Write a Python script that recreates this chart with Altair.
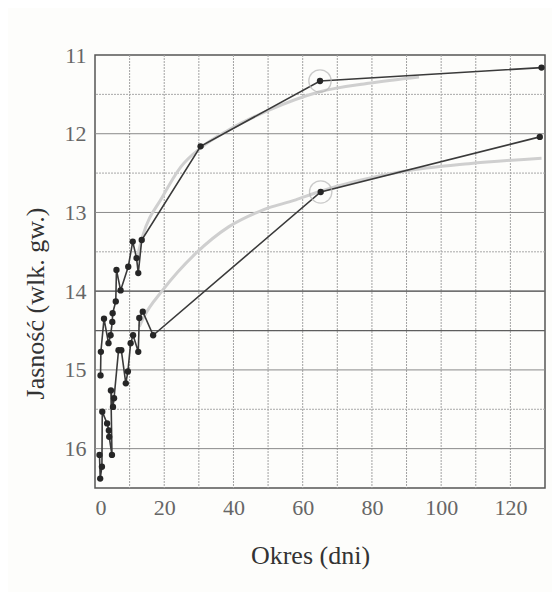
import altair as alt
import pandas as pd

# --- data ---
upper_days = [1.6, 1.7, 2.6, 3.9, 4.5, 5.0, 5.1, 6.0, 6.2, 7.4, 9.6, 10.9, 12.0, 12.5, 13.5, 30.5, 65.0, 129.0]
upper_mag = [15.07, 14.77, 14.35, 14.66, 14.56, 14.39, 14.28, 14.13, 13.73, 13.99, 13.69, 13.37, 13.58, 13.77, 13.35, 12.16, 11.33, 11.16]

lower_days = [1.3, 1.5, 2.0, 2.1, 3.5, 4.0, 4.1, 4.9, 4.6, 5.2, 5.5, 6.8, 7.6, 8.9, 9.5, 10.3, 11.0, 12.5, 12.8, 13.8, 16.8, 65.2, 128.5]
lower_mag = [16.08, 16.38, 16.23, 15.53, 15.68, 15.77, 15.85, 16.08, 15.26, 15.47, 15.36, 14.75, 14.75, 15.17, 15.02, 14.66, 14.56, 14.77, 14.34, 14.26, 14.56, 12.74, 12.04]

fit_upper_days = [12.0, 13.7, 19.5, 24.8, 30.5, 38.7, 50.3, 64.7, 79.0, 93.6]
fit_upper_mag = [13.6, 13.31, 12.8, 12.42, 12.18, 11.95, 11.7, 11.47, 11.36, 11.28]

fit_lower_days = [12.8, 14.2, 19.5, 29.1, 38.7, 48.4, 58.0, 63.8, 88.8, 108.0, 129.0]
fit_lower_mag = [14.45, 14.32, 13.99, 13.52, 13.18, 12.97, 12.84, 12.75, 12.48, 12.38, 12.31]

circle_days = [65.0, 65.2]
circle_mag = [11.33, 12.74]

x_ticks = list(range(0, 131, 10))
x_labels = list(range(0, 121, 20))
y_labels = [11, 12, 13, 14, 15, 16]
y_half = [11.5, 12.5, 13.5, 14.5, 15.5, 16.0 + 0.5]
y_dark = [14, 14.5]

FONT = "Liberation Serif"

obs = pd.concat([
    pd.DataFrame({"days": upper_days, "mag": upper_mag, "series": "max", "i": range(len(upper_days))}),
    pd.DataFrame({"days": lower_days, "mag": lower_mag, "series": "min", "i": range(len(lower_days))}),
])
fit = pd.concat([
    pd.DataFrame({"days": fit_upper_days, "mag": fit_upper_mag, "series": "max", "i": range(len(fit_upper_days))}),
    pd.DataFrame({"days": fit_lower_days, "mag": fit_lower_mag, "series": "min", "i": range(len(fit_lower_days))}),
])
circ = pd.DataFrame({"days": circle_days, "mag": circle_mag})

x_enc = alt.X(
    "days:Q",
    scale=alt.Scale(domain=[0, 130], nice=False, zero=False),
    axis=alt.Axis(
        values=x_labels,
        format="d",
        title="Okres (dni)",
        titleX=215,
        titlePadding=24,
        grid=False,
    ),
)
y_enc = alt.Y(
    "mag:Q",
    scale=alt.Scale(domain=[11, 16.5], reverse=True, nice=False, zero=False),
    axis=alt.Axis(
        values=y_labels,
        format="d",
        title="Jasność (wlk. gw.)",
        titleY=248,
        titlePadding=16,
        grid=False,
    ),
)

vgrid = alt.Chart(pd.DataFrame({"days": x_ticks[1:-1]})).mark_rule(
    color="#a2a2a2", strokeWidth=1, strokeDash=[2, 1]
).encode(x=x_enc)
hgrid_half = alt.Chart(pd.DataFrame({"mag": y_half[:-1]})).mark_rule(
    color="#a8a8a8", strokeWidth=1, strokeDash=[2, 1]
).encode(y=y_enc)
hgrid_int = alt.Chart(pd.DataFrame({"mag": y_labels[1:]})).mark_rule(
    color="#8a8a8a", strokeWidth=1
).encode(y="mag:Q")
hgrid_dark = alt.Chart(pd.DataFrame({"mag": y_dark})).mark_rule(
    color="#5e5e5e", strokeWidth=1.2
).encode(y="mag:Q")

fit_lines = alt.Chart(fit).mark_line(color="#cfcfcf", strokeWidth=3, interpolate="monotone").encode(
    x="days:Q", y="mag:Q", detail="series:N", order="i:Q"
)
obs_lines = alt.Chart(obs).mark_line(color="#3a3a3a", strokeWidth=1.6).encode(
    x="days:Q", y="mag:Q", detail="series:N", order="i:Q"
)
obs_pts = alt.Chart(obs).mark_circle(color="#262626", size=40, opacity=1).encode(
    x="days:Q", y="mag:Q"
)
circles = alt.Chart(circ).mark_point(shape="circle", size=500, color="#b5b5b5", strokeWidth=1.3, filled=False).encode(
    x="days:Q", y="mag:Q"
)

chart = (
    alt.layer(vgrid, hgrid_half, hgrid_int, hgrid_dark, fit_lines, obs_lines, obs_pts, circles)
    .properties(
        width=450,
        height=433,
        autosize=alt.AutoSizeParams(type="none"),
        padding={"left": 87, "top": 47, "right": 7, "bottom": 104},
        background="#fdfdfb",
    )
    .configure_view(stroke="#555555", strokeWidth=1.5)
    .configure_axis(
        labelFont=FONT,
        labelFontSize=22,
        labelColor="#666666",
        labelPadding=9,
        ticks=False,
        domain=False,
        titleFont=FONT,
        titleFontSize=26,
        titleFontWeight="normal",
        titleColor="#333333",
    )
)

chart.save("out.html", embed_options={"renderer": "svg", "actions": False})
